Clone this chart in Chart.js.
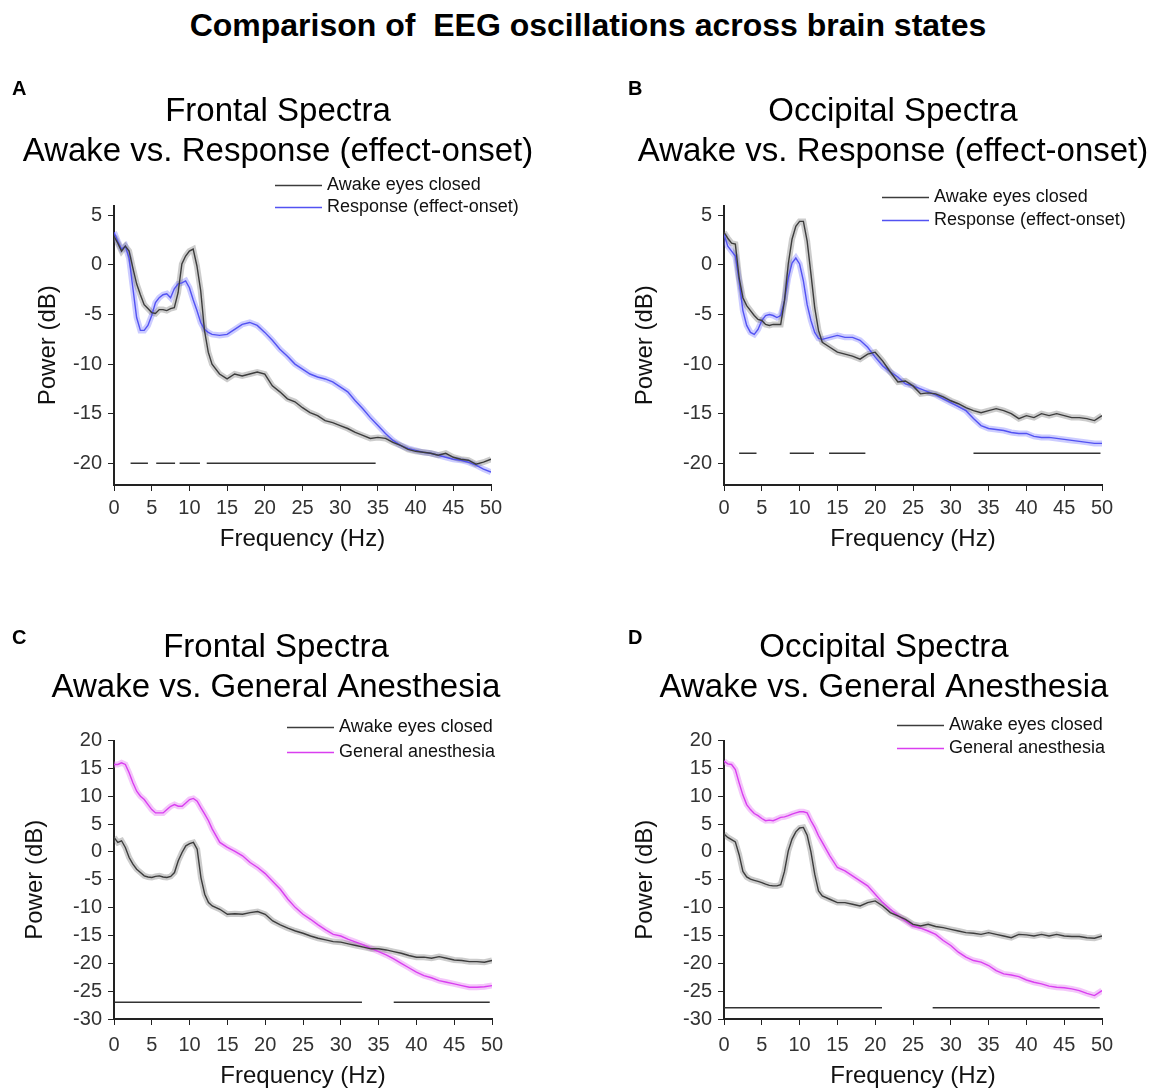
<!DOCTYPE html>
<html>
<head>
<meta charset="utf-8">
<script src="https://cdn.jsdelivr.net/npm/chart.js@4.4.1/dist/chart.umd.min.js"></script>
<style>
  body { margin: 0; width: 1151px; height: 1091px; overflow: hidden; background: #fff;
         font-family: "Liberation Sans", Arial, sans-serif; position: relative; }
  .main-title { position: absolute; top: 8px; left: 0; width: 1176px; text-align: center;
                font-weight: bold; font-size: 32px; line-height: 34px; white-space: pre; color: #000; }
  .letter { position: absolute; font-weight: bold; font-size: 20px; color: #000; z-index: 2; }
  canvas { position: absolute; }
</style>
</head>
<body>
<div class="main-title">Comparison of  EEG oscillations across brain states</div>
<div class="letter" style="left:12px;top:77px">A</div>
<div class="letter" style="left:628px;top:77px">B</div>
<div class="letter" style="left:12px;top:626px">C</div>
<div class="letter" style="left:628px;top:626px">D</div>

<canvas id="chartA" width="556" height="470" style="left:0px;top:92px"></canvas>
<canvas id="chartB" width="556" height="470" style="left:615px;top:92px"></canvas>
<canvas id="chartC" width="552" height="463" style="left:0px;top:628px"></canvas>
<canvas id="chartD" width="548" height="463" style="left:610px;top:628px"></canvas>

<script>
// frequency grid (Hz)
const freqs = [0, 0.5, 1, 1.5, 2, 2.5, 3, 3.5, 4, 4.5, 5, 5.5, 6, 6.5, 7, 7.5, 8, 8.5, 9, 9.5,
  10, 10.5, 11, 11.5, 12, 12.5, 13,
  14, 15, 16, 17, 18, 19, 20, 21, 22, 23, 24, 25, 26, 27, 28, 29, 30, 31, 32, 33, 34, 35,
  36, 37, 38, 39, 40, 41, 42, 43, 44, 45, 46, 47, 48, 49, 50];

const xTicks = [0, 5, 10, 15, 20, 25, 30, 35, 40, 45, 50];
const yTicksTop = [-20, -15, -10, -5, 0, 5];
const yTicksBottom = [-30, -25, -20, -15, -10, -5, 0, 5, 10, 15, 20];

// A: frontal, awake vs response
const awakeA = [2.9, 2.2, 1.4, 1.9, 1.4, -0.3, -1.9, -3.0, -4.0, -4.4, -4.8, -4.9, -4.5, -4.5, -4.6, -4.4, -4.3, -2.8, 0.1, 0.9,
  1.4, 1.6, -0.1, -2.6, -6.6, -8.8, -10.0,
  -11.0, -11.5, -11.0, -11.2, -11.0, -10.8, -11.0, -12.2, -12.8, -13.5, -13.8, -14.4, -14.9, -15.2, -15.7, -15.9, -16.2, -16.5, -16.9, -17.2, -17.5, -17.4,
  -17.5, -17.9, -18.2, -18.6, -18.8, -18.9, -19.0, -19.2, -19.0, -19.4, -19.6, -19.7, -20.1, -19.9, -19.6];
const responseA = [3.3, 2.4, 1.6, 1.9, 0.7, -2.3, -5.3, -6.6, -6.6, -6.1, -5.1, -3.8, -3.3, -3.0, -2.9, -3.3, -2.4, -1.9, -1.8, -1.6,
  -2.3, -3.5, -4.6, -5.8, -6.5, -6.8, -7.0,
  -7.1, -7.0, -6.5, -6.0, -5.8, -6.1, -6.8, -7.6, -8.5, -9.2, -10.0, -10.5, -11.0, -11.3, -11.5, -11.8, -12.3, -12.8, -13.7, -14.5, -15.4, -16.2,
  -17.0, -17.7, -18.2, -18.5, -18.7, -18.9, -19.0, -19.2, -19.4, -19.6, -19.7, -19.9, -20.2, -20.6, -20.9];
const sigA = [[2.2, 4.5], [5.6, 8.1], [8.7, 11.4], [12.3, 34.7]];
const sigLevelA = -20;

// B: occipital, awake vs response
const awakeB = [3.3, 2.7, 2.2, 2.1, -1.3, -3.3, -4.1, -4.6, -5.1, -5.5, -5.6, -6.0, -6.1, -6.0, -6.0, -6.0, -3.6, 0.1, 2.6, 3.9,
  4.4, 4.4, 2.4, -0.9, -4.3, -6.6, -7.8,
  -8.3, -8.8, -9.0, -9.2, -9.5, -9.0, -8.8, -9.7, -10.8, -11.8, -11.7, -12.2, -13.0, -12.9, -13.0, -13.3, -13.7, -14.0, -14.4, -14.7, -14.9, -14.7,
  -14.5, -14.7, -15.0, -15.5, -15.2, -15.4, -15.0, -15.2, -15.0, -15.2, -15.4, -15.4, -15.5, -15.7, -15.2];
const responseB = [3.1, 1.9, 1.4, 0.9, -1.6, -4.6, -6.1, -6.8, -7.0, -6.5, -5.6, -5.1, -5.0, -5.1, -5.3, -5.1, -3.6, -1.3, 0.2, 0.7,
  0.1, -1.6, -4.0, -5.6, -6.8, -7.4, -7.5,
  -7.3, -7.1, -7.3, -7.3, -7.6, -8.3, -9.3, -10.2, -10.8, -11.3, -12.0, -12.2, -12.5, -12.8, -13.1, -13.5, -13.9, -14.3, -14.7, -15.5, -16.2, -16.5,
  -16.6, -16.7, -16.9, -17.0, -17.0, -17.3, -17.4, -17.4, -17.5, -17.6, -17.7, -17.8, -17.9, -18.0, -18.0];
const sigB = [[2.0, 4.3], [8.7, 11.9], [13.9, 18.7], [33.0, 49.8]];
const sigLevelB = -19;

// C: frontal, awake vs general anesthesia
const awakeC = [2.6, 1.7, 2.0, 0.8, -1.0, -2.2, -3.1, -3.7, -4.3, -4.5, -4.6, -4.4, -4.3, -4.5, -4.6, -4.4, -3.7, -1.6, -0.1, 1.1,
  1.5, 1.7, 0.5, -4.6, -7.6, -9.1, -9.7,
  -10.3, -11.2, -11.1, -11.2, -10.9, -10.7, -11.2, -12.4, -13.1, -13.7, -14.2, -14.6, -15.1, -15.5, -15.8, -16.1, -16.2, -16.5, -16.8, -17.1, -17.4, -17.4,
  -17.6, -17.9, -18.2, -18.6, -18.9, -18.9, -19.1, -18.8, -19.1, -19.4, -19.5, -19.7, -19.7, -19.8, -19.5];
const anesthesiaC = [15.7, 15.7, 16.0, 15.7, 14.2, 12.4, 10.9, 10.0, 9.4, 8.5, 7.6, 7.0, 7.0, 7.0, 7.6, 8.2, 8.5, 8.2, 8.2, 8.8,
  9.4, 9.6, 9.1, 7.9, 6.8, 5.6, 4.1,
  1.7, 0.8, 0.1, -0.7, -1.9, -2.8, -3.9, -5.3, -6.7, -8.5, -10.0, -11.2, -12.1, -13.1, -14.0, -14.8, -15.1, -15.7, -16.2, -16.7, -17.3, -17.9,
  -18.5, -19.2, -20.0, -20.8, -21.6, -22.2, -22.6, -23.1, -23.4, -23.7, -24.0, -24.3, -24.3, -24.2, -24.0];
const sigC = [[0.1, 32.8], [37.0, 49.7]];
const sigLevelC = -27;

// D: occipital, awake vs general anesthesia
const awakeD = [3.2, 2.6, 2.2, 1.8, -0.5, -3.5, -4.5, -4.9, -5.1, -5.3, -5.5, -5.8, -6.0, -6.1, -6.1, -5.9, -3.5, 0.2, 2.3, 3.6,
  4.3, 4.4, 3.0, 0.0, -4.0, -7.0, -7.9,
  -8.5, -9.1, -9.1, -9.4, -9.7, -9.1, -8.8, -9.7, -10.9, -11.5, -12.1, -13.0, -13.3, -13.0, -13.4, -13.6, -13.9, -14.2, -14.5, -14.6, -14.8, -14.5,
  -14.8, -15.1, -15.4, -14.8, -14.9, -15.1, -14.8, -15.1, -14.8, -15.1, -15.2, -15.2, -15.4, -15.5, -15.1];
const anesthesiaD = [16.3, 15.8, 15.7, 14.8, 12.4, 10.2, 8.5, 7.6, 6.9, 6.5, 6.0, 5.6, 5.7, 5.6, 5.9, 6.2, 6.3, 6.5, 6.8, 7.0,
  7.2, 7.2, 7.0, 5.6, 4.4, 2.9, 1.7,
  -0.7, -2.8, -3.4, -4.3, -5.2, -6.1, -7.6, -9.1, -10.3, -11.4, -12.4, -13.3, -13.7, -14.2, -14.8, -15.9, -16.8, -18.0, -18.9, -19.5, -19.8, -20.4,
  -21.3, -21.9, -22.1, -22.4, -23.0, -23.4, -23.7, -24.1, -24.3, -24.4, -24.6, -24.9, -25.4, -25.8, -24.9];
const sigD = [[0.0, 20.9], [27.6, 49.7]];
const sigLevelD = -28;

const FONT = '"Liberation Sans", Arial, sans-serif';
const AWAKE = '#3c3c3c', AWAKE_BAND = 'rgba(110,110,110,0.35)';
const BLUE = '#5252f2', BLUE_BAND = 'rgba(110,110,255,0.35)';
const MAGENTA = '#d93ff0', MAGENTA_BAND = 'rgba(230,130,245,0.45)';

// legend with short line samples, stacked, left aligned
const lineLegend = {
  id: 'lineLegend',
  afterDraw(chart, args, opts) {
    const { ctx, chartArea } = chart;
    ctx.save();
    ctx.font = '18px ' + FONT;
    ctx.textBaseline = 'middle';
    opts.items.forEach((item, i) => {
      const x = chartArea.left + opts.x;
      const y = chartArea.top + opts.y + i * opts.gap;
      ctx.strokeStyle = item.color;
      ctx.lineWidth = 1.5;
      ctx.beginPath();
      ctx.moveTo(x, y);
      ctx.lineTo(x + 47, y);
      ctx.stroke();
      ctx.fillStyle = '#111';
      ctx.fillText(item.label, x + 52, y);
    });
    ctx.restore();
  }
};

function points(values) {
  return values.map((v, i) => ({ x: freqs[i], y: v }));
}

function sigPoints(segments, level) {
  const pts = [];
  segments.forEach(([a, b]) => {
    pts.push({ x: a, y: level }, { x: b, y: level }, { x: b, y: null });
  });
  return pts;
}

function makePanel(id, p) {
  const ctx = document.getElementById(id).getContext('2d');
  return new Chart(ctx, {
    type: 'line',
    data: {
      datasets: [
        { data: sigPoints(p.sig, p.sigLevel), borderColor: '#333', borderWidth: 1.5, pointRadius: 0 },
        { label: 'Awake eyes closed', data: points(p.awake), borderColor: AWAKE, borderWidth: 1.4, pointRadius: 0 },
        { label: p.otherLabel, data: points(p.other), borderColor: p.color, borderWidth: 1.4, pointRadius: 0 },
        { data: points(p.awake), borderColor: AWAKE_BAND, borderWidth: 6, pointRadius: 0 },
        { data: points(p.other), borderColor: p.band, borderWidth: 6, pointRadius: 0 }
      ]
    },
    options: {
      responsive: false,
      animation: false,
      events: [],
      elements: { line: { tension: 0 } },
      plugins: {
        legend: { display: false },
        tooltip: { enabled: false },
        title: {
          display: true,
          text: p.title,
          color: '#000',
          font: { family: FONT, size: 33, weight: 'normal', lineHeight: 1.22 },
          padding: { top: 0, bottom: p.titleGap }
        },
        lineLegend: {
          x: p.legendX, y: p.legendY, gap: p.legendGap,
          items: [
            { label: 'Awake eyes closed', color: AWAKE },
            { label: p.otherLabel, color: p.color }
          ]
        }
      },
      scales: {
        x: {
          type: 'linear',
          min: 0,
          max: 50,
          afterBuildTicks: s => { s.ticks = xTicks.map(v => ({ value: v })); },
          afterFit: s => { s.height = p.xHeight; },
          ticks: { color: '#333', font: { family: FONT, size: 20 }, padding: p.xTickPad, maxRotation: 0, autoSkip: false },
          grid: { drawOnChartArea: false, drawTicks: true, tickLength: 6, color: '#222' },
          border: { color: '#222', width: 2 },
          title: { display: true, text: 'Frequency (Hz)', color: '#111', font: { family: FONT, size: 24 }, padding: { top: 0, bottom: p.xTitlePad } }
        },
        y: {
          min: p.yMin,
          max: p.yMax,
          afterBuildTicks: s => { s.ticks = p.yTicks.map(v => ({ value: v })); },
          afterFit: s => { s.width = p.yWidth; },
          ticks: { color: '#333', font: { family: FONT, size: 20 }, padding: 6 },
          grid: { drawOnChartArea: false, drawTicks: true, tickLength: 6, color: '#222' },
          border: { color: '#222', width: 2 },
          title: { display: true, text: 'Power (dB)', color: '#111', font: { family: FONT, size: 24 }, padding: { top: p.yTitlePad, bottom: 0 } }
        },
        // empty right-hand box keeps room at the right without shifting the centred title
        spacer: {
          position: 'right',
          display: true,
          afterFit: s => { s.width = p.padRight; },
          ticks: { display: false },
          grid: { display: false },
          border: { display: false }
        }
      }
    },
    plugins: [lineLegend]
  });
}

makePanel('chartA', {
  title: ['Frontal Spectra', 'Awake vs. Response (effect-onset)'],
  awake: awakeA, other: responseA, otherLabel: 'Response (effect-onset)',
  color: BLUE, band: BLUE_BAND, sig: sigA, sigLevel: sigLevelA,
  yMin: -22.2, yMax: 6, yTicks: yTicksTop,
  padRight: 65, titleGap: 33, yWidth: 114, xHeight: 77, xTickPad: 5, xTitlePad: 8, yTitlePad: 34,
  legendX: 161, legendY: -20, legendGap: 22
});

makePanel('chartB', {
  title: ['Occipital Spectra', 'Awake vs. Response (effect-onset)'],
  awake: awakeB, other: responseB, otherLabel: 'Response (effect-onset)',
  color: BLUE, band: BLUE_BAND, sig: sigB, sigLevel: sigLevelB,
  yMin: -22.2, yMax: 6, yTicks: yTicksTop,
  padRight: 69, titleGap: 33, yWidth: 109, xHeight: 77, xTickPad: 5, xTitlePad: 8, yTitlePad: 16,
  legendX: 158, legendY: -8, legendGap: 23
});

makePanel('chartC', {
  title: ['Frontal Spectra', 'Awake vs. General Anesthesia'],
  awake: awakeC, other: anesthesiaC, otherLabel: 'General anesthesia',
  color: MAGENTA, band: MAGENTA_BAND, sig: sigC, sigLevel: sigLevelC,
  yMin: -30, yMax: 20, yTicks: yTicksBottom,
  padRight: 60, titleGap: 32, yWidth: 114, xHeight: 72, xTickPad: 8, xTitlePad: 0, yTitlePad: 21,
  legendX: 173, legendY: -13, legendGap: 25
});

makePanel('chartD', {
  title: ['Occipital Spectra', 'Awake vs. General Anesthesia'],
  awake: awakeD, other: anesthesiaD, otherLabel: 'General anesthesia',
  color: MAGENTA, band: MAGENTA_BAND, sig: sigD, sigLevel: sigLevelD,
  yMin: -30, yMax: 20, yTicks: yTicksBottom,
  padRight: 56, titleGap: 32, yWidth: 114, xHeight: 72, xTickPad: 8, xTitlePad: 0, yTitlePad: 21,
  legendX: 173, legendY: -15, legendGap: 23
});
</script>
</body>
</html>
